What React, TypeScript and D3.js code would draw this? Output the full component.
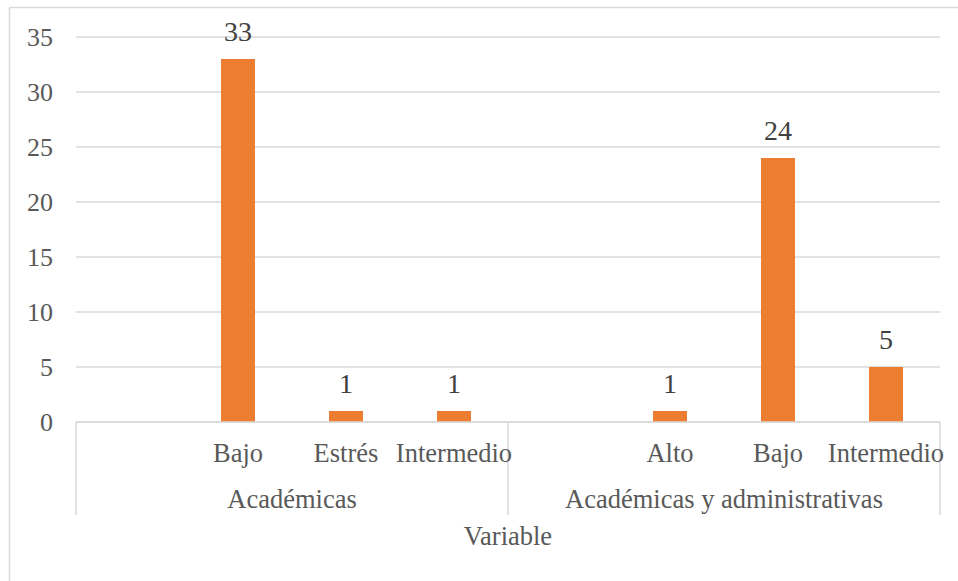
import React from "react";
import * as d3 from "d3";

const groups = ["Académicas", "Académicas y administrativas"];
const categories = ["", "Bajo", "Estrés", "Intermedio", "", "Alto", "Bajo", "Intermedio"];
const categoryGroup = [0, 0, 0, 0, 1, 1, 1, 1];
const values: (number | null)[] = [null, 33, 1, 1, null, 1, 24, 5];
const yTicks = [0, 5, 10, 15, 20, 25, 30, 35];
const axisTitle = "Variable";

const W = 958;
const H = 581;
const left = 76;
const right = 940;
const top = 37;
const bottom = 422;
const font = "Liberation Serif, Tinos, Times New Roman, DejaVu Serif, serif";

export default function App() {
  const idx = categories.map((_, i) => i);
  const x = d3.scaleBand<number>().domain(idx).range([left, right]).padding(0);
  const y = d3.scaleLinear().domain([0, 35]).range([bottom, top]);
  const bw = x.bandwidth();
  const barW = bw * 0.315;

  const groupExtents = groups.map((g, gi) => {
    const members = idx.filter((i) => categoryGroup[i] === gi);
    const x0 = x(members[0])!;
    const x1 = x(members[members.length - 1])! + bw;
    return { g, x0, x1 };
  });
  const boundaries = [left, ...groupExtents.map((e) => e.x1)];
  const txt = { fontFamily: font } as React.CSSProperties;

  return (
    <svg
      width={W}
      height={H}
      style={{ position: "absolute", left: 0, top: 0, background: "#fff", fontFamily: font }}
    >
      <rect x={0} y={0} width={W} height={H} fill="#fff" />
      <line x1={9.5} y1={7.5} x2={W} y2={7.5} stroke="#d9d9d9" strokeWidth={1.5} />
      <line x1={9.5} y1={7.5} x2={9.5} y2={H} stroke="#d9d9d9" strokeWidth={1.5} />

      {yTicks.map((t) => (
        <line key={t} x1={left} x2={right} y1={y(t)} y2={y(t)} stroke="#d9d9d9" strokeWidth={1.5} />
      ))}
      {yTicks.map((t) => (
        <text key={"l" + t} x={53} y={y(t) + 9} textAnchor="end" style={txt} fontSize={26} fill="#595959">
          {t}
        </text>
      ))}

      {values.map((v, i) =>
        v == null ? null : (
          <g key={"b" + i}>
            <rect
              x={x(i)! + (bw - barW) / 2}
              y={y(v)}
              width={barW}
              height={y(0) - y(v)}
              fill="#ed7d31"
            />
            <text x={x(i)! + bw / 2} y={y(v) - 18} textAnchor="middle" style={txt} fontSize={28} fill="#404040">
              {v}
            </text>
          </g>
        )
      )}

      <line x1={left} x2={right} y1={bottom} y2={bottom} stroke="#d9d9d9" strokeWidth={1.5} />
      {boundaries.map((b, i) => (
        <line key={"v" + i} x1={b} x2={b} y1={bottom} y2={515} stroke="#d9d9d9" strokeWidth={1.5} />
      ))}
      {categories.map((c, i) => (
        <text key={"c" + i} x={x(i)! + bw / 2} y={462} textAnchor="middle" style={txt} fontSize={26.5} fill="#595959">
          {c}
        </text>
      ))}
      {groupExtents.map((e) => (
        <text key={e.g} x={(e.x0 + e.x1) / 2} y={508} textAnchor="middle" style={txt} fontSize={26.5} fill="#595959">
          {e.g}
        </text>
      ))}
      <text x={(left + right) / 2} y={545} textAnchor="middle" style={txt} fontSize={26.5} fill="#595959">
        {axisTitle}
      </text>
    </svg>
  );
}
